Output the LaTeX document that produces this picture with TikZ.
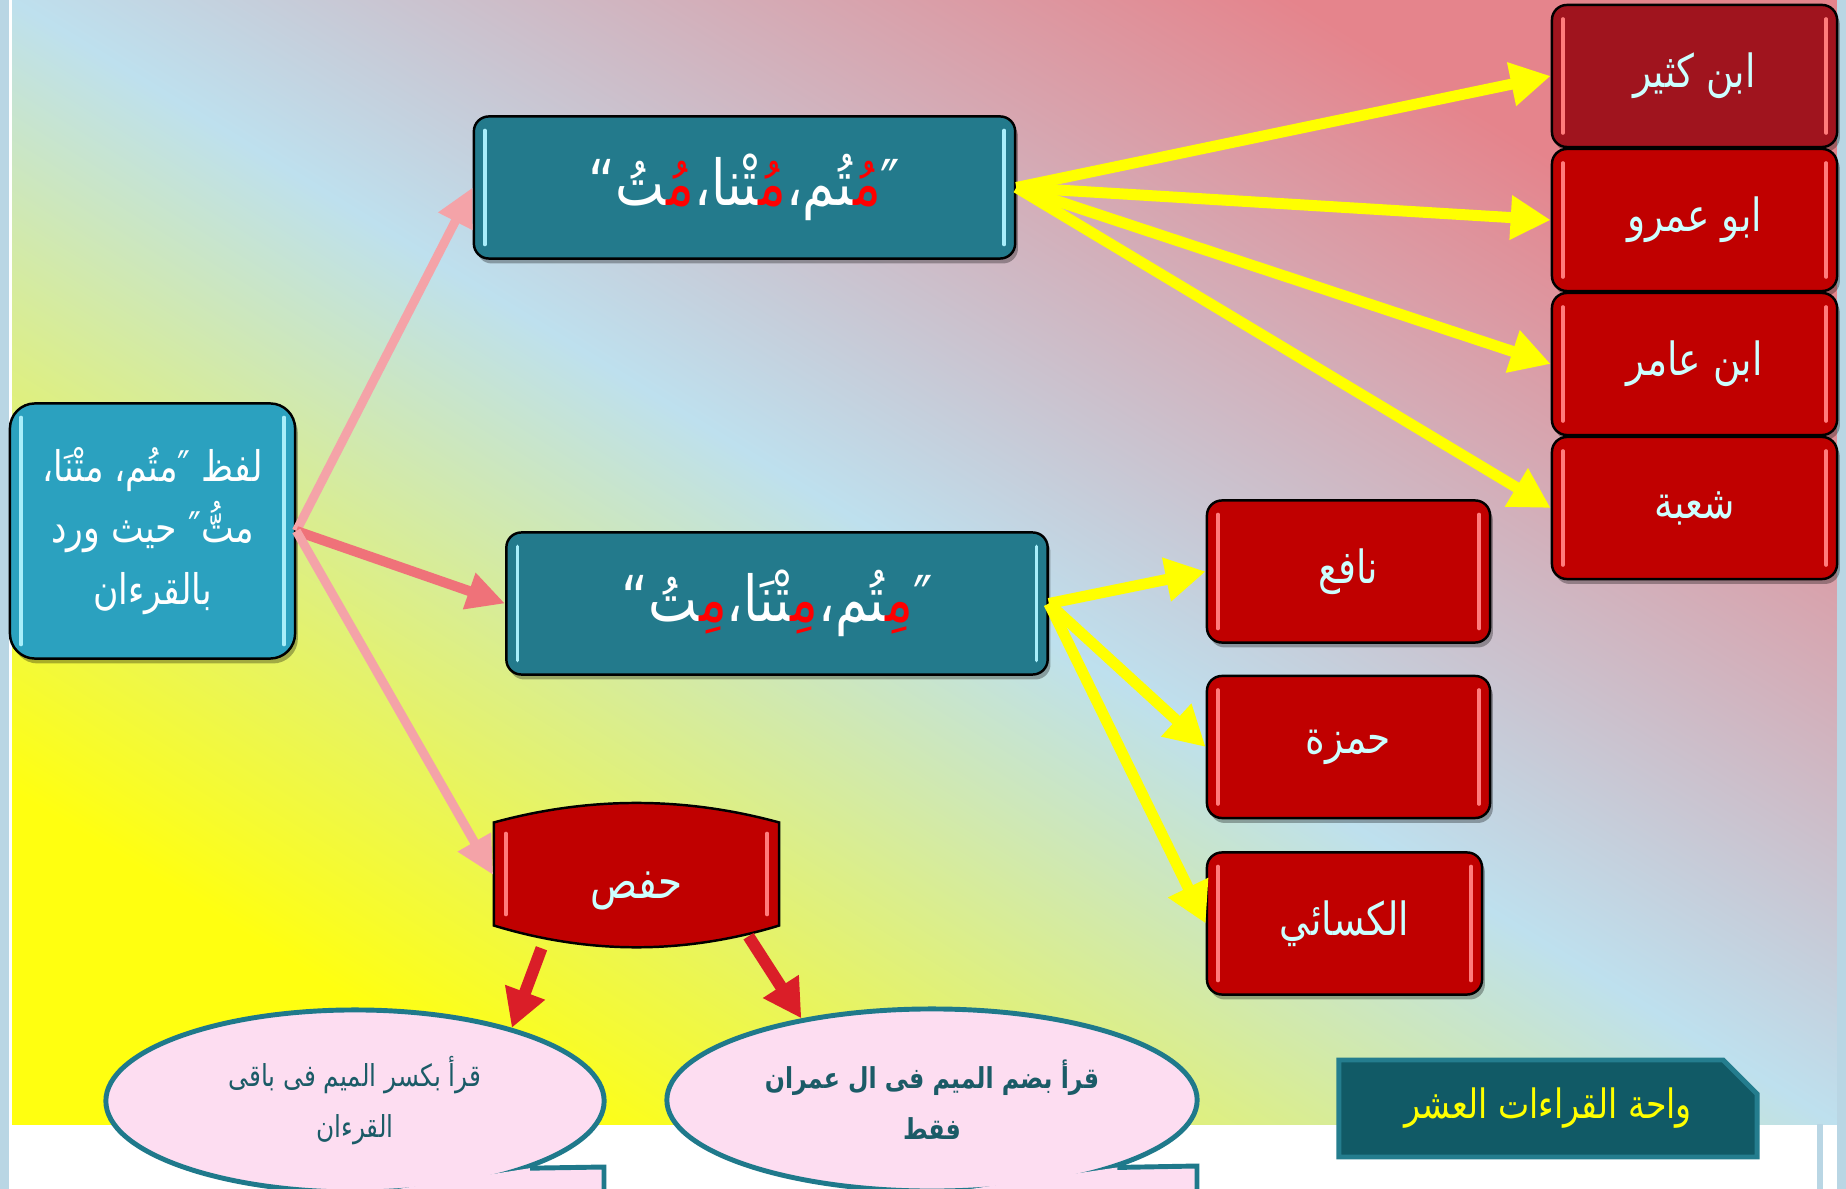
\documentclass[tikz,border=0pt]{standalone}
\usepackage{fontspec}
\usepackage{tikz}
\usetikzlibrary{calc}
\usetikzlibrary{arrows.meta}
\usetikzlibrary{shapes.geometric}
\usetikzlibrary{shapes.misc}
\usetikzlibrary{shadows}
\TeXXeTstate=1
\newfontfamily\arabicfont[Script=Arabic, FakeStretch=0.82]{DejaVu Sans}
\definecolor{BoxTeal}{HTML}{237A8C}
\definecolor{RootTeal}{HTML}{2BA1BF}
\definecolor{BoxRed}{HTML}{C00000}
\definecolor{DarkRed}{HTML}{A0141E}
\definecolor{NameCyan}{HTML}{CCFFFF}
\definecolor{GlossCyan}{HTML}{A8EEFA}
\definecolor{GlossRed}{HTML}{FF7C7C}
\definecolor{TextRed}{HTML}{FF0000}
\definecolor{ArrowYellow}{HTML}{FFFF00}
\definecolor{ArrowPink}{HTML}{F4A3A8}
\definecolor{ArrowRose}{HTML}{EF7279}
\definecolor{ArrowRed}{HTML}{DA1E28}
\definecolor{CalloutPink}{HTML}{FDDDF1}
\definecolor{CalloutEdge}{HTML}{1F798B}
\definecolor{CalloutText}{HTML}{1B5B67}
\definecolor{FooterFill}{HTML}{115A66}
\definecolor{FooterEdge}{HTML}{247D8E}
\definecolor{FooterText}{HTML}{FFFF00}
\definecolor{BgYellow}{HTML}{FFFF10}
\definecolor{BgBlue}{HTML}{BEE0EE}
\definecolor{BgRose}{HTML}{E5848C}
\definecolor{EdgeBlue}{HTML}{B9D6E4}
\newcommand\zj{^^^^200d}
\newcommand\rd[1]{{\color{TextRed}#1}}
\tikzset{
  gloss/.style={path picture={
    \draw[#1, line width=1pt, line cap=round]
      ($(path picture bounding box.north west)+(11,14)$) -- ($(path picture bounding box.south west)+(11,-14)$)
      ($(path picture bounding box.north east)+(-11,14)$) -- ($(path picture bounding box.south east)+(-11,-14)$);
  }},
  softshadow/.style={drop shadow={shadow xshift=0.8pt, shadow yshift=-1.4pt, opacity=0.3, fill=black}}
}
\tikzstyle{tealbox} = [rectangle, rounded corners=0.15cm, draw=black, line width=0.7pt, fill=BoxTeal, softshadow, gloss=GlossCyan, text=white, minimum width=5.41cm, minimum height=1.42cm, inner sep=0pt, font=\arabicfont\fontsize{18}{20}\selectfont]
\tikzstyle{redbox} = [rectangle, rounded corners=0.15cm, draw=black, line width=0.7pt, fill=BoxRed, softshadow, gloss=GlossRed, text=NameCyan, minimum width=2.85cm, minimum height=1.42cm, inner sep=0pt, font=\arabicfont\fontsize{13}{15}\selectfont]
\tikzstyle{rootbox} = [rectangle, rounded corners=0.25cm, draw=black, line width=0.7pt, fill=RootTeal, softshadow, gloss=GlossCyan, text=white, minimum width=2.85cm, minimum height=2.55cm, inner sep=0pt, align=center, font=\arabicfont\fontsize{12}{17.5}\selectfont]
\tikzstyle{hafsbox} = [rectangle, minimum width=2.95cm, minimum height=1.55cm, inner sep=0pt, text=NameCyan, font=\arabicfont\fontsize{13.5}{15}\selectfont,
  path picture={
    \coordinate (hnw) at (path picture bounding box.north west);
    \coordinate (hse) at (path picture bounding box.south east);
    \filldraw[fill=BoxRed, draw=black, line width=0.7pt]
      ($(hnw)+(5,25)$) .. controls ($(hnw)+(100,-1)$) and ($(hse|-hnw)+(-100,-1)$) .. ($(hse|-hnw)+(-5,25)$)
      -- ($(hse)+(-5,-27)$) .. controls ($(hse)+(-100,2)$) and ($(hnw|-hse)+(100,2)$) .. ($(hnw|-hse)+(5,-27)$) -- cycle;
    \draw[GlossRed, line width=1pt, line cap=round]
      ($(hnw)+(17,36)$) -- ($(hnw|-hse)+(17,-38)$)
      ($(hse|-hnw)+(-17,36)$) -- ($(hse)+(-17,-38)$);
  }]
\tikzstyle{callout} = [ellipse, draw=CalloutEdge, line width=1.4pt, fill=CalloutPink, text=CalloutText, align=center, inner sep=0pt, minimum height=1.82cm, font=\arabicfont\fontsize{8.6}{14.5}\selectfont]
\tikzstyle{footbox} = [chamfered rectangle, chamfered rectangle corners=north east, chamfered rectangle xsep=0.17cm, chamfered rectangle ysep=0.17cm, draw=FooterEdge, line width=1.4pt, fill=FooterFill, text=FooterText, minimum width=4.18cm, minimum height=0.97cm, inner sep=0pt, font=\arabicfont\fontsize{11.5}{13}\selectfont]
\tikzstyle{yarrow} = [draw=ArrowYellow, line width=0.11cm, -{Triangle[length=0.4cm, width=0.42cm]}]
\tikzstyle{parrow} = [draw=ArrowPink, line width=0.09cm, -{Triangle[length=0.38cm, width=0.36cm]}]
\tikzstyle{rarrow} = [draw=ArrowRed, line width=0.12cm, -{Triangle[length=0.38cm, width=0.4cm]}]

\begin{document}
\begin{tikzpicture}[x=0.01cm, y=-0.01cm]
  \useasboundingbox (0,0) rectangle (1846,1189);
  \clip (0,0) rectangle (1846,1189);
  % background
  \fill[white] (0,0) rectangle (1846,1189);
  \begin{scope}[transform canvas={shift={(12,1124)}, xscale=18.25, yscale=11.24}]
    \shade[bottom color=BgYellow, top color=BgRose, middle color=BgBlue, shading angle=-45] (0,0) rectangle (100,-100);
  \end{scope}
  \fill[EdgeBlue] (0,0) rectangle (9,1189);
  \fill[EdgeBlue] (1837,0) rectangle (1846,1189);
  \fill[EdgeBlue] (1817,1124) rectangle (1823,1189);

  % boxes
  \node[rootbox] (root) at (152.5,531) {\beginR لفظ ″متُم، متْنَا،\endR\\\beginR متُّ″ حيث ورد\endR\\\beginR بالقرءان\endR};
  \node[tealbox] (qtop) at (744.5,187.5) {\zj تُ“\rd{مُ\zj}\zj تْنا،\rd{مُ\zj}\zj تُم،\rd{مُ\zj}″};
  \node[tealbox] (qmid) at (777,603.5) {\zj تُ“\rd{مِ\zj}\zj تْنَا،\rd{مِ\zj}\zj تُم،\rd{مِ\zj}″};
  \node[hafsbox] (hafs) at (636.5,875) {\raisebox{-0.16cm}[\height][\depth]{\beginR حفص\endR}};

  \node[redbox, fill=DarkRed] (kathir) at (1694.5,76) {\beginR ابن كثير\endR};
  \node[redbox] (amr) at (1694.5,220) {\beginR ابو عمرو\endR};
  \node[redbox] (amir) at (1694.5,364) {\beginR ابن عامر\endR};
  \node[redbox] (shuba) at (1694.5,508) {\beginR شعبة\endR};
  \node[redbox, minimum width=2.83cm] (nafi) at (1348.5,571.5) {\beginR نافع\endR};
  \node[redbox, minimum width=2.83cm] (hamza) at (1348.5,747) {\beginR حمزة\endR};
  \node[redbox, minimum width=2.75cm] (kisai) at (1344.5,923.5) {\beginR الكسائي\endR};

  % callouts
  \node[callout, minimum width=4.98cm] (kasr) at (355,1101) {\beginR قرأ بكسر الميم فى باقى\endR\\\beginR القرءان\endR};
  \fill[CalloutPink] (kasr.-21) -- ($(kasr.center)+(249,66)$) -- ($(kasr.center)+(249,130)$) -- (kasr.-85) -- cycle;
  \draw[CalloutEdge, line width=1.4pt] (kasr.-21) -- ($(kasr.center)+(249,66)$) -- ($(kasr.center)+(249,130)$);
  \node[callout, minimum width=5.3cm, font=\arabicfont\bfseries\fontsize{8.2}{14.5}\selectfont] (damm) at (932,1100) {\beginR قرأ بضم الميم فى ال عمران\endR\\\beginR فقط\endR};
  \fill[CalloutPink] (damm.-20) -- ($(damm.center)+(265,66)$) -- ($(damm.center)+(265,130)$) -- (damm.-85) -- cycle;
  \draw[CalloutEdge, line width=1.4pt] (damm.-20) -- ($(damm.center)+(265,66)$) -- ($(damm.center)+(265,130)$);

  \node[footbox] (wahat) at (1548,1108.5) {\beginR واحة القراءات العشر\endR};

  % arrows
  \draw[parrow] (root.east) -- (qtop.west);
  \draw[parrow, draw=ArrowRose, line width=0.1cm] (root.east) -- (qmid.west);
  \draw[parrow] (root.east) -- ($(hafs.west)+(5,0)$);
  \foreach \k in {kathir,amr,amir,shuba}
    \draw[yarrow] (qtop.east) -- (\k.west);
  \foreach \k in {nafi,hamza,kisai}
    \draw[yarrow] (qmid.east) -- (\k.west);
  \draw[rarrow] ($(hafs.south)+(-95,-5)$) -- (kasr.25);
  \draw[rarrow] ($(hafs.south)+(112,-17)$) -- (damm.148);
\end{tikzpicture}
\end{document}
